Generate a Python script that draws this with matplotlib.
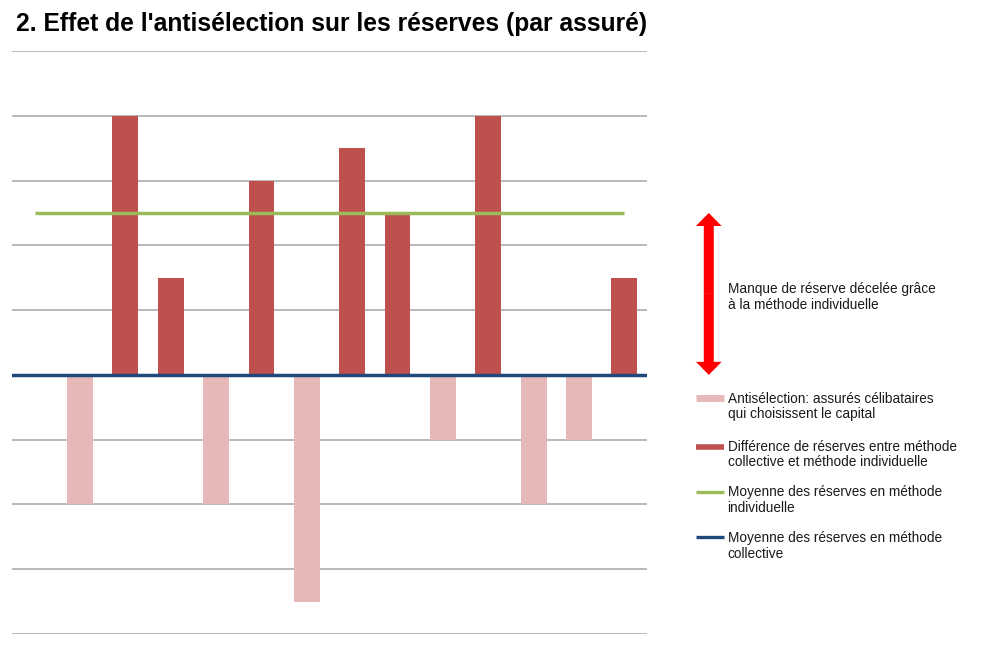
import matplotlib
matplotlib.use("Agg")
import matplotlib.pyplot as plt
from matplotlib.lines import Line2D
import numpy as np

plt.rcParams["font.family"] = ["Liberation Sans", "DejaVu Sans"]

# ── données (par assuré) ─────────────────────────────────────
antiselection = [0, -2, 0, 0, -2, 0, -3.5, 0, 0, -1, 0, -2, -1, 0]
difference = [0, 0, 4, 1.5, 0, 3, 0, 3.5, 2.5, 0, 4, 0, 0, 1.5]
moyenne_individuelle = [2.5, 2.5, 2.5, 2.5, 2.5, 2.5, 2.5,
                        2.5, 2.5, 2.5, 2.5, 2.5, 2.5, 2.5]
moyenne_collective = 0.0
graduations = [-4, -3, -2, -1, 0, 1, 2, 3, 4, 5]

labels = [
    "Antisélection: assurés célibataires\nqui choisissent le capital",
    "Différence de réserves entre méthode\ncollective et méthode individuelle",
    "Moyenne des réserves en méthode\nindividuelle",
    "Moyenne des réserves en méthode\ncollective",
]
texte_fleche = "Manque de réserve décelée grâce\nà la méthode individuelle"
titre = "2. Effet de l'antisélection sur les réserves (par assuré)"

ROSE, ROUGE, VERT, BLEU = "#E6B9B8", "#C0504D", "#9BBB59", "#1F497D"
GRIS = "#A6A6A6"
W, H = 999, 645


def px(x, y):
    """pixels (origine en haut à gauche) -> fraction de figure"""
    return x / W, 1 - y / H


fig = plt.figure(figsize=(W / 100, H / 100), dpi=100)
ax = fig.add_axes([12 / W, 11 / H, 635 / W, 583 / H])

x = np.arange(len(antiselection))
ax.bar(x, antiselection, width=0.57, color=ROSE, zorder=2)
ax.bar(x, difference, width=0.57, color=ROUGE, zorder=2)
ax.plot(x, moyenne_individuelle, color=VERT, lw=2.5, zorder=3,
        solid_capstyle="butt")
ax.axhline(moyenne_collective, color=BLEU, lw=2.5, zorder=4)

ax.set_xlim(-0.5, len(x) - 0.5)
ax.set_ylim(min(graduations), max(graduations))
ax.set_yticks(graduations)
ax.set_xticks([])
ax.tick_params(left=False, labelleft=False)
ax.grid(axis="y", color=GRIS, lw=1.1, zorder=0)
ax.set_axisbelow(True)
for s in ax.spines.values():
    s.set_visible(False)

# ── double flèche entre les deux moyennes ───────────────────
fx = (708.8 - 12) / 635
milieu = (moyenne_individuelle[-1] + moyenne_collective) / 2
style = "simple,head_length=0.94,head_width=1.85,tail_width=0.72"
for cible in (moyenne_individuelle[-1], moyenne_collective):
    ax.annotate("", xy=(fx, cible), xytext=(fx, milieu),
                xycoords=("axes fraction", "data"),
                textcoords=("axes fraction", "data"),
                annotation_clip=False,
                arrowprops=dict(arrowstyle=style, mutation_scale=10,
                                color="#FF0000", lw=0, shrinkA=0, shrinkB=0))
fig.text(*px(728, 297), texte_fleche, fontsize=9.8, color="#1a1a1a",
         va="center", ha="left", linespacing=1.12)

# ── légende ─────────────────────────────────────────────────
entrees = [
    (ROSE, 5.0, 397.5, 406.5),
    (ROUGE, 4.0, 446.5, 454.5),
    (VERT, 2.4, 491.5, 500.0),
    (BLEU, 2.4, 537.0, 546.0),
]
for (couleur, lw, yh, yt), lab in zip(entrees, labels):
    x0, y0 = px(696, yh)
    x1, _ = px(724, yh)
    fig.add_artist(Line2D([x0, x1], [y0, y0], transform=fig.transFigure,
                          color=couleur, lw=lw, solid_capstyle="butt"))
    fig.text(*px(727.5, yt), lab, fontsize=9.8, color="#1a1a1a",
             va="center", ha="left", linespacing=1.12)

fig.text(*px(16, 24), titre, fontsize=17.7, fontweight="bold",
         color="black", va="center", ha="left")

fig.savefig("out.png", dpi=100)
